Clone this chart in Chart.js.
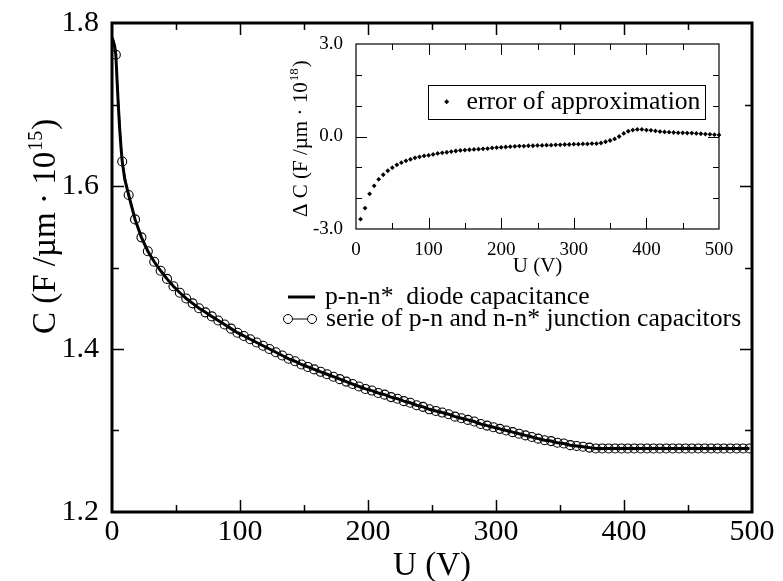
<!DOCTYPE html>
<html><head><meta charset="utf-8">
<script src="https://cdn.jsdelivr.net/npm/chart.js@4.4.0/dist/chart.umd.min.js"></script>
<style>
html,body{margin:0;padding:0;background:#fff;}
#wrap{position:relative;width:783px;height:581px;overflow:hidden;}
#main{position:absolute;left:0;top:0;}
#inset{position:absolute;left:260px;top:20px;}
</style></head><body>
<div id="wrap"><canvas id="main" width="783" height="581"></canvas><canvas id="inset" width="500" height="270"></canvas></div>
<script>
// ---------- data ----------
const circleU = [3,8,13,18,23,28,33,38,43,48,53,58,63,68,73,78,83,88,93,98,
103,108,113,118,123,128,133,138,143,148,153,158,163,168,173,178,183,188,193,198,
203,208,213,218,223,228,233,238,243,248,253,258,263,268,273,278,283,288,293,298,
303,308,313,318,323,328,333,338,343,348,353,358,363,368,373,378,383,388,393,398,
403,408,413,418,423,428,433,438,443,448,453,458,463,468,473,478,483,488,493,498];
const circleC = [1.761,1.630,1.589,1.559,1.537,1.520,1.507,1.496,1.486,1.477,
1.469,1.462,1.456,1.450,1.445,1.440,1.435,1.430,1.425,1.420,
1.416,1.412,1.408,1.404,1.400,1.396,1.392,1.388,1.385,1.381,
1.378,1.375,1.372,1.369,1.366,1.363,1.360,1.357,1.354,1.351,
1.349,1.346,1.344,1.341,1.339,1.336,1.334,1.331,1.329,1.326,
1.324,1.322,1.320,1.317,1.315,1.313,1.311,1.308,1.306,1.304,
1.302,1.300,1.298,1.296,1.294,1.292,1.290,1.288,1.287,1.285,
1.284,1.282,1.281,1.280,1.279,1.278,1.278,1.278,1.278,1.278,
1.278,1.278,1.278,1.278,1.278,1.278,1.278,1.278,1.278,1.278,
1.278,1.278,1.278,1.278,1.278,1.278,1.278,1.278,1.278,1.278];
// extra points of the solid curve near U = 0
const lineHeadU = [0,1,2,4,5,6,7,10];
const lineHeadC = [1.782,1.778,1.772,1.728,1.697,1.670,1.648,1.608];

const errU = [6.25,12.5,18.75,25,31.25,37.5,43.75,50,56.25,62.5,68.75,75,81.25,87.5,93.75,100,
106.25,112.5,118.75,125,131.25,137.5,143.75,150,156.25,162.5,168.75,175,181.25,187.5,193.75,200,
206.25,212.5,218.75,225,231.25,237.5,243.75,250,256.25,262.5,268.75,275,281.25,287.5,293.75,300,
306.25,312.5,318.75,325,331.25,337.5,343.75,350,356.25,362.5,368.75,375,381.25,387.5,393.75,400,
406.25,412.5,418.75,425,431.25,437.5,443.75,450,456.25,462.5,468.75,475,481.25,487.5,493.75,500];
const errC = [-2.68,-2.32,-1.86,-1.60,-1.39,-1.24,-1.11,-1.01,-0.92,-0.85,-0.79,-0.74,-0.69,-0.66,-0.63,-0.61,
-0.58,-0.55,-0.53,-0.51,-0.49,-0.47,-0.45,-0.44,-0.43,-0.42,-0.41,-0.40,-0.39,-0.37,-0.36,-0.35,
-0.34,-0.33,-0.32,-0.31,-0.31,-0.30,-0.30,-0.29,-0.29,-0.28,-0.28,-0.27,-0.27,-0.26,-0.26,-0.25,
-0.25,-0.24,-0.24,-0.23,-0.23,-0.21,-0.17,-0.13,-0.08,0.00,0.10,0.17,0.21,0.23,0.23,0.21,
0.20,0.18,0.16,0.15,0.14,0.13,0.12,0.12,0.11,0.11,0.10,0.09,0.08,0.07,0.06,0.05];

// ticks
const mainXMajor = [0,100,200,300,400,500];
const mainXMinor = [50,150,250,350,450];
const mainYMajor = [1.2,1.4,1.6,1.8];
const mainYMinor = [1.3,1.5,1.7];
const insetXMajor = [0,100,200,300,400,500];
const insetXMinor = [50,150,250,350,450];
const insetYMajor = [-3,0,3];
const insetYMinor = [-2,-1,1,2];

// texts
const legendMain = ['p-n-n*  diode capacitance', 'serie of p-n and n-n* junction capacitors'];
const legendInset = 'error of approximation';

// ---------- build ----------
const FONT = "'Liberation Serif','Times New Roman',serif";
const circlePts = circleU.map((u,i)=>({x:u,y:circleC[i]}));
const linePts = lineHeadU.map((u,i)=>({x:u,y:lineHeadC[i]})).concat(circlePts).sort((a,b)=>a.x-b.x);
const errPts = errU.map((u,i)=>({x:u,y:errC[i]}));

function tickMarks(chart, xMaj, xMin, yMaj, yMin, lMaj, lMin, lw) {
  const ctx = chart.ctx, a = chart.chartArea, sx = chart.scales.x, sy = chart.scales.y;
  ctx.save(); ctx.strokeStyle = '#000'; ctx.lineWidth = lw; ctx.beginPath();
  const xs = (vals, len) => vals.forEach(v => { const p = Math.round(sx.getPixelForValue(v))+0.5;
    ctx.moveTo(p, a.bottom); ctx.lineTo(p, a.bottom-len); ctx.moveTo(p, a.top); ctx.lineTo(p, a.top+len); });
  const ys = (vals, len) => vals.forEach(v => { const p = Math.round(sy.getPixelForValue(v))+0.5;
    ctx.moveTo(a.left, p); ctx.lineTo(a.left+len, p); ctx.moveTo(a.right, p); ctx.lineTo(a.right-len, p); });
  xs(xMaj, lMaj); xs(xMin, lMin); ys(yMaj, lMaj); ys(yMin, lMin);
  ctx.stroke(); ctx.restore();
}
function rotTitle(ctx, x, y, size, supSize, main, sup, tail, supShift) {
  ctx.save(); ctx.translate(x, y); ctx.rotate(-Math.PI/2);
  ctx.fillStyle = '#000'; ctx.textBaseline = 'alphabetic'; ctx.textAlign = 'left';
  ctx.font = size + 'px ' + FONT; ctx.fillText(main, 0, 0);
  const w1 = ctx.measureText(main).width;
  ctx.font = supSize + 'px ' + FONT; ctx.fillText(sup, w1 + 1, -supShift);
  const w2 = ctx.measureText(sup).width;
  ctx.font = size + 'px ' + FONT; ctx.fillText(tail, w1 + w2 + 2, 0);
  ctx.restore();
}

const mainDeco = {
  id: 'mainDeco',
  afterDraw(chart) {
    const ctx = chart.ctx, a = chart.chartArea;
    tickMarks(chart, mainXMajor.slice(1,-1), mainXMinor, mainYMajor.slice(1,-1), mainYMinor, 12, 7, 1.5);
    ctx.save();
    ctx.strokeStyle = '#000'; ctx.lineWidth = 3;
    ctx.strokeRect(a.left, a.top, a.right - a.left, a.bottom - a.top);
    // legend
    ctx.fillStyle = '#000'; ctx.font = '25.7px ' + FONT; ctx.textBaseline = 'middle'; ctx.textAlign = 'left';
    ctx.lineWidth = 3; ctx.beginPath(); ctx.moveTo(288, 297); ctx.lineTo(315, 297); ctx.stroke();
    ctx.fillText(legendMain[0], 325, 297);
    ctx.lineWidth = 1; ctx.beginPath(); ctx.moveTo(288, 319); ctx.lineTo(312, 319); ctx.stroke();
    [288, 312].forEach(cx => { ctx.beginPath(); ctx.arc(cx, 319, 4.5, 0, 2*Math.PI); ctx.fillStyle='#fff'; ctx.fill(); ctx.stroke(); });
    ctx.fillStyle = '#000';
    ctx.fillText(legendMain[1], 326, 319);
    // x title
    ctx.font = '33px ' + FONT; ctx.textAlign = 'center'; ctx.textBaseline = 'alphabetic';
    ctx.fillText('U (V)', (a.left + a.right) / 2, 575);
    ctx.restore();
    rotTitle(ctx, 55, 334, 33, 20, 'C (F /\u00b5m \u00b7 10', '15', ')', 13);
  }
};

const insetDeco = {
  id: 'insetDeco',
  afterDraw(chart) {
    const ctx = chart.ctx, a = chart.chartArea;
    tickMarks(chart, insetXMajor.slice(1,-1), insetXMinor, insetYMajor.slice(1,-1), insetYMinor, 11, 6, 1);
    ctx.save();
    ctx.strokeStyle = '#000'; ctx.lineWidth = 1.2;
    ctx.strokeRect(a.left, a.top, a.right - a.left, a.bottom - a.top);
    // legend box
    ctx.lineWidth = 1; ctx.fillStyle = '#fff';
    ctx.fillRect(168.5, 65.5, 277, 34); ctx.strokeRect(168.5, 65.5, 277, 34);
    ctx.fillStyle = '#000';
    ctx.beginPath(); ctx.moveTo(186.7, 79.2); ctx.lineTo(189.2, 81.7); ctx.lineTo(186.7, 84.2); ctx.lineTo(184.2, 81.7); ctx.closePath(); ctx.fill();
    ctx.font = '25.7px ' + FONT; ctx.textBaseline = 'middle'; ctx.textAlign = 'left';
    ctx.fillText(legendInset, 206.5, 82);
    // x title
    ctx.font = '21px ' + FONT; ctx.textAlign = 'center'; ctx.textBaseline = 'alphabetic';
    ctx.fillText('U (V)', (a.left + a.right) / 2, 252);
    ctx.restore();
    rotTitle(ctx, 47, 197, 21, 13, '\u0394 C (F /\u00b5m \u00b7 10', '18', ')', 9);
  }
};

const axisCommon = (min, max, majors, size, fmt, pad) => ({
  type: 'linear', min, max,
  grid: { display: false }, border: { display: false },
  afterBuildTicks: s => { s.ticks = majors.map(v => ({ value: v })); },
  ticks: { color: '#000', font: { family: FONT, size }, padding: pad, callback: fmt, maxRotation: 0, autoSkip: false }
});

Chart.defaults.animation = false;

const mx = axisCommon(0, 500, mainXMajor, 30, v => String(v), -6);
mx.afterFit = s => { s.height = 69; };
const my = axisCommon(1.2, 1.8, mainYMajor, 30, v => v.toFixed(1), 5);
my.afterFit = s => { s.width = 112; };

new Chart(document.getElementById('main'), {
  type: 'scatter',
  data: { datasets: [
    { data: linePts, showLine: true, borderColor: '#000', borderWidth: 3, pointRadius: 0, tension: 0 },
    { data: circlePts, showLine: true, borderColor: '#000', borderWidth: 1, pointRadius: 4.5, pointBorderWidth: 1.1,
      pointBorderColor: '#000', pointBackgroundColor: 'rgba(0,0,0,0)' }
  ]},
  options: {
    responsive: false, devicePixelRatio: 1,
    layout: { padding: { left: 0, top: 15, right: 31, bottom: 0 } },
    plugins: { legend: { display: false }, tooltip: { enabled: false } },
    scales: { x: mx, y: my }
  },
  plugins: [mainDeco]
});

const ix = axisCommon(0, 500, insetXMajor, 19, v => String(v), 2);
ix.afterFit = s => { s.height = 61; };
const iy = axisCommon(-3, 3, insetYMajor, 19, v => v.toFixed(1), 5);
iy.afterFit = s => { s.width = 96; };

new Chart(document.getElementById('inset'), {
  type: 'scatter',
  data: { datasets: [
    { data: errPts, showLine: false, pointStyle: 'rectRot', pointRadius: 2.4, pointBorderWidth: 0,
      pointBackgroundColor: '#000', pointBorderColor: '#000', clip: 6 }
  ]},
  options: {
    responsive: false, devicePixelRatio: 1,
    layout: { padding: { left: 0, top: 24, right: 41, bottom: 0 } },
    plugins: { legend: { display: false }, tooltip: { enabled: false } },
    scales: { x: ix, y: iy }
  },
  plugins: [insetDeco]
});
</script>
</body></html>
